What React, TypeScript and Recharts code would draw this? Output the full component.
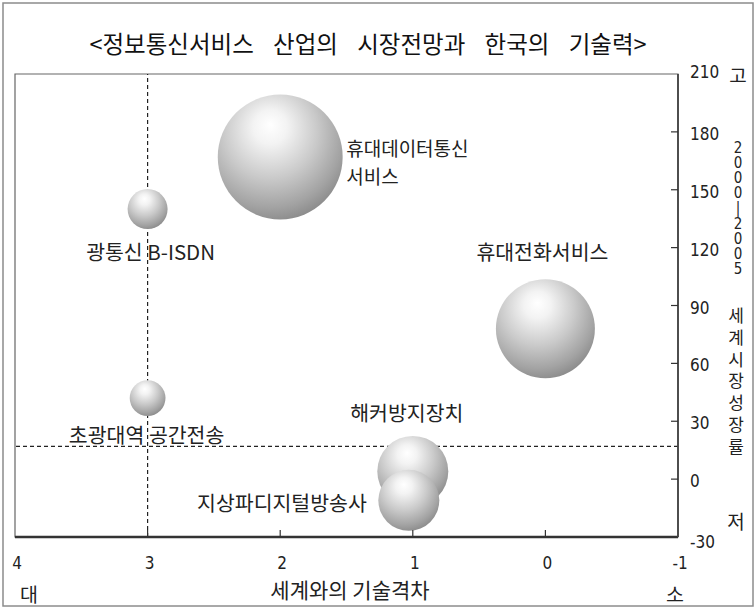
import React from 'react';
import {
  ScatterChart,
  Scatter,
  XAxis,
  YAxis,
  ZAxis,
  ReferenceLine,
  ReferenceArea,
} from 'recharts';

// 정보통신서비스 품목별: 세계와의 기술격차(년), 2000-2005 세계시장성장률(%), 시장규모
const services = [
  '휴대데이터통신서비스',
  '광통신 B-ISDN',
  '휴대전화서비스',
  '초광대역 공간전송',
  '해커방지장치',
  '지상파디지털방송사',
];
const techGap = [2, 3, 0, 3, 1, 1.03];
const marketGrowth = [167, 140, 78, 42, 4, -11];
const marketSize = [39, 4, 24.5, 3.2, 12.6, 9.3];

const xTicks = [4, 3, 2, 1, 0, -1];
const yTicks = [210, 180, 150, 120, 90, 60, 30, 0, -30];
const gapCutoff = 3;
const growthCutoff = 17;

const KR_FONT = "'Noto Sans CJK KR', 'Noto Sans', sans-serif";
const NUM_FONT = "'Liberation Sans Narrow', 'DejaVu Sans Condensed', 'Liberation Sans', sans-serif";

const points = services.map((name, i) => ({
  name,
  gap: techGap[i],
  growth: marketGrowth[i],
  size: marketSize[i],
}));

// label placement around each bubble centre
const LABEL_LAYOUT: Record<
  string,
  { lines: string[]; dx: number; dy: number; anchor: 'start' | 'middle' | 'end' }
> = {
  '휴대데이터통신서비스': { lines: ['휴대데이터통신', '서비스'], dx: 66, dy: -9, anchor: 'start' },
  '광통신 B-ISDN': { lines: ['광통신 B-ISDN'], dx: 3, dy: 42, anchor: 'middle' },
  '휴대전화서비스': { lines: ['휴대전화서비스'], dx: -3, dy: -78, anchor: 'middle' },
  '초광대역 공간전송': { lines: ['초광대역 공간전송'], dx: -1, dy: 36, anchor: 'middle' },
  '해커방지장치': { lines: ['해커방지장치'], dx: -6, dy: -59, anchor: 'middle' },
  '지상파디지털방송사': { lines: ['지상파디지털방송사'], dx: -42, dy: 2, anchor: 'end' },
};
const LINE_GAP = 27.5;

const Bubble = (props: any) => {
  const { cx, cy, width, size, payload } = props;
  const r = width ? width / 2 : Math.sqrt((size || 0) / Math.PI);
  const layout = LABEL_LAYOUT[payload.name];
  return (
    <g>
      <circle cx={cx} cy={cy} r={r} fill="url(#sphere)" />
      {layout &&
        layout.lines.map((line, i) => (
          <text
            key={i}
            x={cx + layout.dx}
            y={cy + layout.dy + i * LINE_GAP}
            textAnchor={layout.anchor}
            dominantBaseline="central"
            fontSize={layout.lines.length > 1 ? 19 : 20.5}
            fontFamily={KR_FONT}
            fill="#222"
          >
            {line}
          </text>
        ))}
    </g>
  );
};

const XTick = (props: any) => {
  const { x, y, payload } = props;
  const edge = payload.value === 4 || payload.value === -1;
  return (
    <g>
      {!edge && <line x1={x} y1={y} x2={x} y2={y - 7} stroke="#333" strokeWidth={1.2} />}
      <text x={x + 2} y={y + 32} textAnchor="middle" fontSize={17} fontFamily={NUM_FONT} fill="#222">
        {payload.value}
      </text>
    </g>
  );
};

const YTick = (props: any) => {
  const { x, y, payload } = props;
  const v = payload.value;
  const edge = v === 210 || v === -30;
  const dy = v === 210 ? 4 : v === -30 ? 11 : 8;
  return (
    <g>
      {!edge && <line x1={x} y1={y} x2={x - 7} y2={y} stroke="#333" strokeWidth={1.2} />}
      <text x={x + 12} y={y + dy} textAnchor="start" fontSize={17} fontFamily={NUM_FONT} fill="#222">
        {v}
      </text>
    </g>
  );
};

const uprightText = (letterSpacing: number) => ({
  writingMode: 'vertical-rl' as const,
  textOrientation: 'upright' as const,
  letterSpacing,
});

export default function App() {
  return (
    <div style={{ position: 'absolute', left: 0, top: 0, width: 756, height: 609, background: '#fff' }}>
      <ScatterChart width={756} height={609} margin={{ top: 74, right: 0, bottom: 0, left: 15 }}>
        <defs>
          <radialGradient id="sphere" cx="42%" cy="34%" r="68%" fx="42%" fy="24%">
            <stop offset="0%" stopColor="#ffffff" />
            <stop offset="20%" stopColor="#f3f3f3" />
            <stop offset="55%" stopColor="#cacaca" />
            <stop offset="85%" stopColor="#a3a3a3" />
            <stop offset="100%" stopColor="#8c8c8c" />
          </radialGradient>
        </defs>
        <ReferenceArea x1={4} x2={-1} y1={-30} y2={210} fill="none" stroke="#666" strokeWidth={1.2} />
        <XAxis
          type="number"
          dataKey="gap"
          domain={[-1, 4]}
          reversed
          ticks={xTicks}
          interval={0}
          height={72}
          tickSize={0}
          tickMargin={0}
          tickLine={false}
          tick={<XTick />}
          axisLine={{ stroke: '#333', strokeWidth: 2.5 }}
        />
        <YAxis
          type="number"
          dataKey="growth"
          orientation="right"
          domain={[-30, 210]}
          ticks={yTicks}
          interval={0}
          width={78}
          tickSize={0}
          tickMargin={0}
          tickLine={false}
          tick={<YTick />}
          axisLine={{ stroke: '#444', strokeWidth: 1.8 }}
        />
        <ZAxis type="number" dataKey="size" domain={[0, 40]} range={[0, 4000 * Math.PI]} />
        <ReferenceLine x={gapCutoff} stroke="#222" strokeDasharray="4 3" strokeWidth={1.2} />
        <ReferenceLine y={growthCutoff} stroke="#222" strokeDasharray="4 3" strokeWidth={1.2} />
        <Scatter data={points} shape={<Bubble />} isAnimationActive={false} />
      </ScatterChart>

      <svg
        width={756}
        height={609}
        style={{ position: 'absolute', left: 0, top: 0, pointerEvents: 'none' }}
      >
        <rect x={3} y={3} width={750} height={603} fill="none" stroke="#8c8c8c" strokeWidth={1.5} />
        <text
          x={368}
          y={43}
          textAnchor="middle"
          dominantBaseline="central"
          fontSize={23.5}
          fontFamily={KR_FONT}
          fill="#111"
          style={{ wordSpacing: 14 }}
        >
          {'<정보통신서비스 산업의 시장전망과 한국의 기술력>'}
        </text>

        <text x={738} y={74} textAnchor="middle" dominantBaseline="central" fontSize={19} fontFamily={KR_FONT} fill="#222">
          고
        </text>
        <text x={738} y={139} fontSize={15} fontFamily={NUM_FONT} fill="#222" style={uprightText(-2.9)}>
          2000|2005
        </text>
        <text x={736} y={307} fontSize={17} fontFamily={KR_FONT} fill="#222" style={uprightText(4.8)}>
          세계시장성장률
        </text>
        <text x={736} y={520} textAnchor="middle" dominantBaseline="central" fontSize={19} fontFamily={KR_FONT} fill="#222">
          저
        </text>

        <text x={29} y={593} textAnchor="middle" dominantBaseline="central" fontSize={19.5} fontFamily={KR_FONT} fill="#222">
          대
        </text>
        <text x={350} y={589} textAnchor="middle" dominantBaseline="central" fontSize={21} fontFamily={KR_FONT} fill="#222">
          세계와의 기술격차
        </text>
        <text x={675} y={593} textAnchor="middle" dominantBaseline="central" fontSize={19.5} fontFamily={KR_FONT} fill="#222">
          소
        </text>
      </svg>
    </div>
  );
}
